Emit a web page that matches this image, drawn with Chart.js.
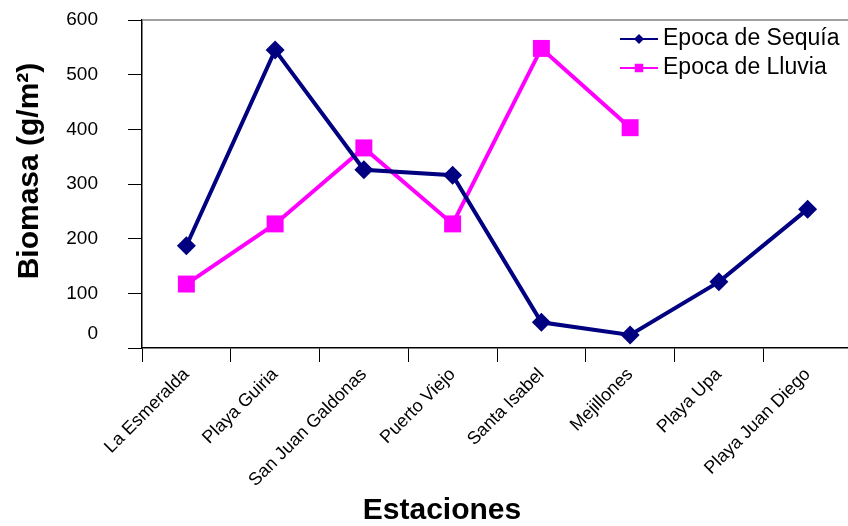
<!DOCTYPE html>
<html>
<head>
<meta charset="utf-8">
<script src="https://cdn.jsdelivr.net/npm/chart.js@4"></script>
<style>
    html, body { margin: 0; padding: 0; background: #fff; overflow: hidden; }
    #wrap { width: 852px; height: 526px; }
</style>
</head>
<body>
<div id="wrap"><canvas id="chart" width="852" height="526"></canvas></div>
<script>
const estaciones = ['La Esmeralda', 'Playa Guiria', 'San Juan Galdonas', 'Puerto Viejo',
    'Santa Isabel', 'Mejillones', 'Playa Upa', 'Playa Juan Diego'];
const sequia = [187, 545, 326, 316, 47, 24, 121, 254];
const lluvia = [117, 227, 366, 227, 548, 403, null, null];
const yTicks = [0, 100, 200, 300, 400, 500, 600];

const FONT = '"Liberation Sans", Arial, sans-serif';
const NAVY = '#000080';
const MAGENTA = '#ff00ff';

// titles, legend, top border and the raised "0" label
const decorations = {
    id: 'decorations',
    afterDraw(chart) {
        const ctx = chart.ctx;
        const area = chart.chartArea;
        const y = chart.scales.y;
        ctx.save();

        ctx.strokeStyle = '#808080';
        ctx.lineWidth = 1.5;
        ctx.beginPath();
        ctx.moveTo(area.left, area.top);
        ctx.lineTo(area.right, area.top);
        ctx.stroke();

        ctx.fillStyle = '#000';
        ctx.font = '19px ' + FONT;
        ctx.textAlign = 'right';
        ctx.textBaseline = 'middle';
        ctx.fillText('0', area.left - 44, y.getPixelForValue(0) - 14);

        ctx.font = 'bold 30px ' + FONT;
        ctx.textAlign = 'center';
        ctx.fillText('Estaciones', 442, 511);

        ctx.translate(30, 171);
        ctx.rotate(-Math.PI / 2);
        ctx.fillText('Biomasa (g/m²)', 0, 0);
        ctx.restore();

        // legend
        const items = [
            { label: 'Epoca de Sequía', color: NAVY, style: 'rectRot', r: 5 },
            { label: 'Epoca de Lluvia', color: MAGENTA, style: 'rect', r: 6 }
        ];
        ctx.save();
        items.forEach((it, i) => {
            const ly = 39 + i * 29;
            ctx.strokeStyle = it.color;
            ctx.lineWidth = 2;
            ctx.beginPath();
            ctx.moveTo(620, ly);
            ctx.lineTo(658, ly);
            ctx.stroke();
            ctx.fillStyle = it.color;
            Chart.helpers.drawPoint(ctx, { pointStyle: it.style, radius: it.r, borderWidth: 0 }, 639, ly);
            ctx.fillStyle = '#000';
            ctx.font = '23px ' + FONT;
            ctx.textAlign = 'left';
            ctx.textBaseline = 'middle';
            ctx.fillText(it.label, 663, ly);
        });
        ctx.restore();
    }
};

new Chart(document.getElementById('chart'), {
    type: 'line',
    data: {
        labels: estaciones,
        datasets: [{
            label: 'Epoca de Sequía',
            data: sequia,
            borderColor: NAVY,
            backgroundColor: NAVY,
            borderWidth: 4,
            pointStyle: 'rectRot',
            pointRadius: 9.5,
            pointBorderWidth: 0,
            tension: 0
        }, {
            label: 'Epoca de Lluvia',
            data: lluvia,
            borderColor: MAGENTA,
            backgroundColor: MAGENTA,
            borderWidth: 4,
            pointStyle: 'rect',
            pointRadius: 12,
            pointBorderWidth: 0,
            tension: 0,
            spanGaps: false
        }]
    },
    options: {
        responsive: false,
        animation: false,
        events: [],
        layout: { autoPadding: false, padding: { top: 20, left: 0, right: 0, bottom: 0 } },
        plugins: {
            legend: { display: false },
            tooltip: { enabled: false }
        },
        scales: {
            x: {
                offset: true,
                afterFit(scale) {
                    scale.height = 178;
                    scale.paddingLeft = 0;
                    scale.paddingRight = 0;
                },
                grid: {
                    offset: true,
                    drawOnChartArea: false,
                    tickLength: 14,
                    color: '#000'
                },
                border: { color: '#000', width: 1.5 },
                ticks: {
                    color: '#000',
                    font: { family: FONT, size: 18 },
                    maxRotation: 45,
                    minRotation: 45,
                    padding: 2,
                    autoSkip: false
                }
            },
            y: {
                min: 0,
                max: 600,
                afterFit(scale) {
                    scale.width = 142;
                    scale.paddingTop = 0;
                    scale.paddingBottom = 0;
                },
                afterBuildTicks(scale) { scale.ticks = yTicks.map(v => ({ value: v })); },
                grid: {
                    drawOnChartArea: false,
                    tickLength: 14,
                    color: '#000'
                },
                border: { color: '#000', width: 1.5 },
                ticks: {
                    color: '#000',
                    font: { family: FONT, size: 19 },
                    padding: 30,
                    callback: v => (v === 0 ? '' : v)
                }
            }
        }
    },
    plugins: [decorations]
});
</script>
</body>
</html>
